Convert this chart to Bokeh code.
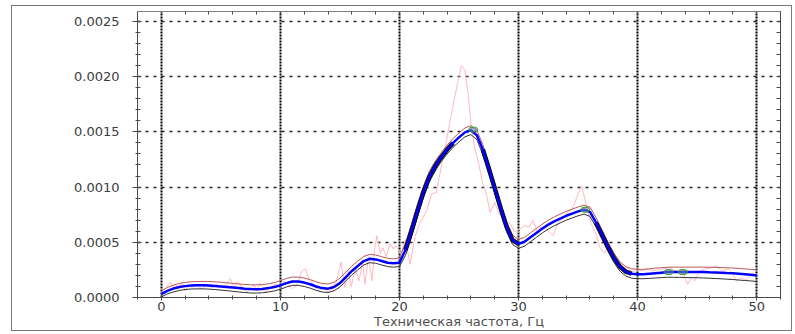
import numpy as np
from bokeh.plotting import figure
from bokeh.models import (Range1d, LinearAxis, SingleIntervalTicker, FixedTicker,
                          PrintfTickFormatter, Grid)
from bokeh.embed import file_html
from bokeh.resources import INLINE

# ---------------- data (values in units of 1e-4) ----------------
fit_freq = np.arange(0, 50.01, 0.5)

fit_e4 = [0.30, 0.60, 0.80, 0.95, 1.03, 1.08, 1.10, 1.10, 1.08, 1.05,
          1.00, 0.95, 0.90, 0.85, 0.80, 0.76, 0.75, 0.78, 0.85, 0.95,
          1.10, 1.30, 1.45, 1.45, 1.35, 1.20, 1.00, 0.85, 0.80, 0.95,
          1.30, 1.85, 2.40, 2.85, 3.30, 3.50, 3.45, 3.30, 3.15, 3.10,
          3.15, 4.30, 6.00, 7.80, 9.50, 10.90, 11.90, 12.70, 13.40, 14.00,
          14.50, 14.95, 15.15, 14.70, 13.40, 11.70, 9.90, 8.10, 6.40, 5.20,
          4.85, 5.05, 5.45, 5.85, 6.25, 6.60, 6.90, 7.15, 7.40, 7.60,
          7.80, 7.95, 7.75, 6.80, 5.70, 4.60, 3.60, 2.80, 2.35, 2.15,
          2.10, 2.10, 2.15, 2.20, 2.25, 2.30, 2.30, 2.30, 2.30, 2.30,
          2.30, 2.30, 2.28, 2.27, 2.25, 2.22, 2.20, 2.15, 2.10, 2.05,
          2.00]

upper_e4 = [0.60, 0.90, 1.12, 1.27, 1.36, 1.42, 1.45, 1.46, 1.45, 1.42,
            1.38, 1.33, 1.28, 1.23, 1.18, 1.15, 1.14, 1.17, 1.24, 1.35,
            1.52, 1.72, 1.85, 1.85, 1.76, 1.62, 1.42, 1.27, 1.22, 1.38,
            1.75, 2.30, 2.85, 3.30, 3.72, 3.90, 3.85, 3.70, 3.55, 3.50,
            3.60, 4.90, 6.60, 8.40, 10.05, 11.40, 12.35, 13.10, 13.80, 14.40,
            14.90, 15.35, 15.55, 15.15, 13.85, 12.15, 10.35, 8.55, 6.85, 5.65,
            5.25, 5.45, 5.85, 6.25, 6.65, 7.00, 7.30, 7.55, 7.80, 8.00,
            8.20, 8.35, 8.18, 7.25, 6.15, 5.05, 4.05, 3.25, 2.80, 2.60,
            2.55, 2.55, 2.60, 2.66, 2.70, 2.74, 2.75, 2.75, 2.75, 2.75,
            2.75, 2.75, 2.74, 2.73, 2.71, 2.69, 2.67, 2.63, 2.59, 2.55,
            2.50]

lower_e4 = [0.05, 0.32, 0.50, 0.64, 0.72, 0.77, 0.78, 0.78, 0.76, 0.72,
            0.67, 0.62, 0.56, 0.50, 0.45, 0.41, 0.40, 0.43, 0.50, 0.60,
            0.75, 0.95, 1.10, 1.10, 1.00, 0.85, 0.65, 0.50, 0.45, 0.60,
            0.95, 1.50, 2.05, 2.50, 2.95, 3.15, 3.10, 2.95, 2.80, 2.75,
            2.80, 3.80, 5.45, 7.25, 9.00, 10.45, 11.45, 12.30, 13.00, 13.60,
            14.10, 14.55, 14.75, 14.30, 12.95, 11.25, 9.45, 7.65, 5.95, 4.80,
            4.45, 4.65, 5.05, 5.45, 5.85, 6.20, 6.50, 6.75, 7.00, 7.20,
            7.40, 7.55, 7.35, 6.40, 5.30, 4.20, 3.20, 2.40, 1.95, 1.75,
            1.70, 1.70, 1.73, 1.77, 1.80, 1.83, 1.83, 1.82, 1.81, 1.80,
            1.79, 1.77, 1.75, 1.72, 1.69, 1.66, 1.63, 1.58, 1.54, 1.50,
            1.45]

raw_freq = [0.4, 0.75, 1.0, 1.2, 1.45, 1.7, 2.0, 2.3, 2.6, 2.85,
            3.2, 3.5, 3.8, 4.25, 4.7, 5.0, 5.4, 5.8, 6.1, 6.4,
            6.8, 7.2, 7.5, 7.8, 8.0, 8.3, 8.5, 8.8, 9.1, 9.4,
            9.7, 10.0, 10.3, 10.6, 11.0, 11.4, 11.8, 12.1, 12.4, 12.8,
            13.2, 13.6, 14.0, 14.4, 14.7, 15.1, 15.4, 15.7, 15.95, 16.3,
            16.6, 16.9, 17.1, 17.4, 17.7, 17.9, 18.1, 18.4, 18.6, 18.9,
            19.2, 19.5, 19.7, 20.1, 20.5, 20.9, 21.3, 21.7, 22.3, 22.7,
            23.1, 23.5, 23.9, 24.3, 24.8, 25.2, 25.5, 25.8, 26.0, 26.3,
            26.6, 27.0, 27.3, 27.6, 28.0, 28.4, 28.9, 29.3, 29.7, 30.1,
            30.5, 30.9, 31.2, 31.6, 31.9, 32.3, 32.9, 33.3, 33.6, 34.0,
            34.4, 34.7, 35.0, 35.3, 35.6, 35.8, 36.1, 36.5, 36.8, 37.2,
            37.5, 37.9, 38.4, 38.8, 39.2, 39.6, 40.0, 40.4, 40.8, 41.3,
            41.7, 42.1, 42.7, 43.2, 43.8, 44.2, 44.5, 44.8, 45.2, 45.7,
            46.3, 46.6, 47.1, 47.6, 48.0, 48.3, 48.7, 49.1, 49.6, 49.8]

raw_e4 = [0.9, 1.4, 0.9, 1.2, 0.8, 1.4, 0.6, 1.1, 0.9, 1.2,
          0.9, 0.8, 1.2, 0.9, 1.2, 0.9, 1.1, 1.7, 0.9, 1.4,
          0.9, 0.5, 0.8, 1.1, 0.6, 1.3, 0.9, 0.5, 0.8, 1.1,
          1.2, 0.9, 1.5, 1.2, 0.8, 1.1, 2.4, 2.6, 1.7, 1.1,
          0.6, 0.9, 0.5, 0.8, 1.4, 3.2, 0.9, 2.4, 1.0, 2.7,
          1.5, 3.2, 1.2, 3.7, 1.5, 4.3, 5.6, 4.0, 4.5, 3.7,
          4.9, 4.4, 4.7, 4.0, 5.2, 3.0, 5.5, 6.7, 7.9, 9.4,
          9.5, 11.8, 13.9, 16.3, 19.0, 21.0, 20.6, 18.1, 15.8, 13.6,
          12.4, 10.3, 9.4, 7.7, 8.6, 7.5, 6.9, 6.7, 5.9, 6.2,
          6.5, 6.4, 7.0, 5.9, 6.4, 6.2, 5.6, 6.7, 7.0, 7.6,
          7.9, 8.5, 9.4, 10.1, 8.8, 7.9, 6.7, 5.8, 4.6, 4.0,
          4.6, 3.7, 2.9, 3.0, 2.6, 2.3, 2.5, 2.4, 2.6, 2.4,
          2.5, 2.6, 2.7, 2.4, 2.3, 1.2, 1.8, 1.5, 2.4, 2.6,
          2.7, 2.9, 2.4, 2.6, 2.1, 1.5, 1.8, 1.6, 2.1, 2.3]

peak_freq = [26.2, 35.6, 42.6, 43.8]
peak_e4 = [15.2, 7.95, 2.3, 2.3]

y_ticks_interval = 0.0005
y_minor_step = 0.0001
x_ticks_interval = 10
x_minor_step = 2
x_label = "Техническая частота, Гц"

# ---------------- conversions ----------------
scale = 1e-4
fit = np.array(fit_e4) * scale
upper = np.array(upper_e4) * scale
lower = np.array(lower_e4) * scale
raw = np.array(raw_e4) * scale
peaks = np.array(peak_e4) * scale

steep = (((fit_freq >= 20.5) & (fit_freq <= 24.5)) |
         ((fit_freq >= 27.0) & (fit_freq <= 30.0)) |
         ((fit_freq >= 36.5) & (fit_freq <= 39.5)))
steep_y = np.where(steep, fit, np.nan)

FONT = "DejaVu Sans"
TXT = "#3c3c3c"
AX = "#4a4a4a"

# figure occupies the outer box (11,5)-(793,332) of the page
p = figure(width=781, height=326, output_backend="svg", toolbar_location=None,
           x_range=Range1d(-2, 52), y_range=Range1d(0, 0.00259),
           min_border_left=125, min_border_right=13, min_border_top=5,
           min_border_bottom=35, x_axis_type=None, y_axis_type=None,
           margin=(5, 0, 0, 11),
           styles={"border": "1px solid #7a7a7a"})
p.background_fill_color = "white"
p.border_fill_color = "white"
p.outline_line_color = None

# bottom axis
xb = LinearAxis(ticker=SingleIntervalTicker(interval=x_ticks_interval, num_minor_ticks=5))
xb.axis_label = x_label
xb.axis_label_text_font = FONT
xb.axis_label_text_font_size = "13px"
xb.axis_label_text_font_style = "normal"
xb.axis_label_text_color = "#505050"
xb.axis_label_standoff = 0
xb.major_label_text_font = FONT
xb.major_label_text_font_size = "13px"
xb.major_label_text_color = TXT
xb.major_label_standoff = 1
xb.major_tick_in = 4
xb.major_tick_out = 3
xb.minor_tick_in = 2
xb.minor_tick_out = 2
xb.axis_line_color = AX
xb.major_tick_line_color = AX
xb.minor_tick_line_color = AX
p.add_layout(xb, "below")

# left axis
yl = LinearAxis(ticker=SingleIntervalTicker(interval=y_ticks_interval, num_minor_ticks=5),
                formatter=PrintfTickFormatter(format="%.4f"))
yl.major_label_text_font = FONT
yl.major_label_text_font_size = "13px"
yl.major_label_text_color = TXT
yl.major_label_standoff = 13
yl.major_tick_in = 4
yl.major_tick_out = 5
yl.minor_tick_in = 3
yl.minor_tick_out = 2
yl.axis_line_color = AX
yl.major_tick_line_color = AX
yl.minor_tick_line_color = AX
p.add_layout(yl, "left")

# top axis (inner ticks only, no labels)
xt = LinearAxis(ticker=FixedTicker(ticks=[],
                minor_ticks=list(np.arange(0, 52.01, x_minor_step))))
xt.minor_tick_in = 3
xt.minor_tick_out = 0
xt.axis_line_color = "#808080"
xt.minor_tick_line_color = AX
p.add_layout(xt, "above")

# right axis (inner ticks only, no labels)
yr = LinearAxis(ticker=FixedTicker(ticks=[],
                minor_ticks=list(np.arange(0, 0.00259, y_minor_step))))
yr.minor_tick_in = 4
yr.minor_tick_out = 0
yr.axis_line_color = AX
yr.minor_tick_line_color = AX
p.add_layout(yr, "right")

# grids
gx = Grid(dimension=0, ticker=xb.ticker, grid_line_color="black",
          grid_line_width=2, grid_line_dash="2 1")
gy = Grid(dimension=1, ticker=yl.ticker, grid_line_color="#222222",
          grid_line_width=1.5, grid_line_dash="3 5")
p.add_layout(gx)
p.add_layout(gy)

# data
p.line(raw_freq, raw, line_color="#ffb8c2", line_width=1)
p.line(fit_freq, lower, line_color="#333333", line_width=1)
p.line(fit_freq, upper, line_color="#b8585a", line_width=1)
p.line(fit_freq, steep_y, line_color="#111111", line_width=4.5)
p.line(fit_freq, fit, line_color="#0000ff", line_width=2.5)
p.ellipse(peak_freq, peaks, width=9, height=5, width_units="screen",
          height_units="screen", fill_color="#6a7fb0", fill_alpha=0.6,
          line_color="#1fa01f", line_width=1)

open("out.html", "w").write(file_html(p, INLINE))
